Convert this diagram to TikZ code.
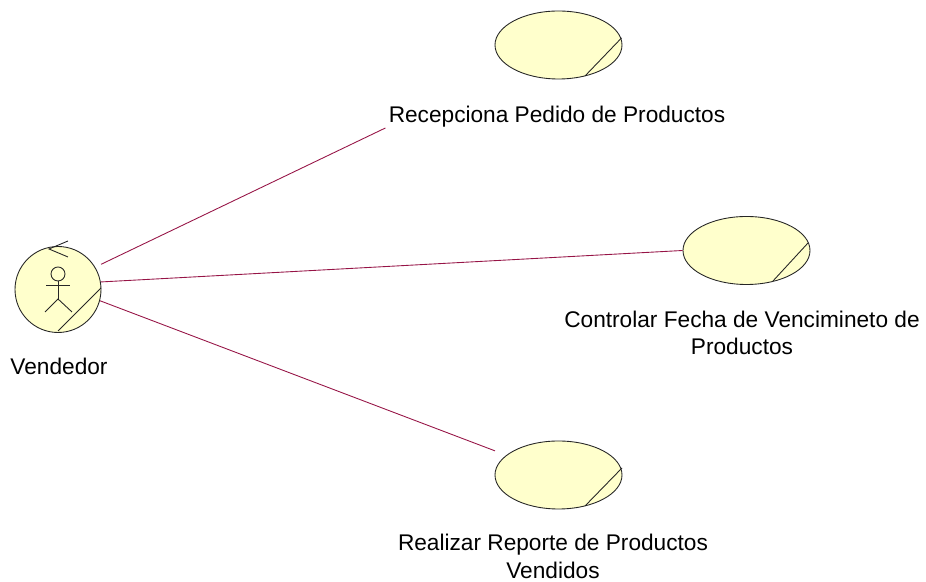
\documentclass[tikz,border=0pt]{standalone}
\usepackage{fontspec}
\setmainfont{Liberation Sans}
\usetikzlibrary{shapes.geometric}
\definecolor{usecasefill}{RGB}{255,255,204}
\definecolor{assoccolor}{RGB}{150,20,70}
\tikzset{
  usecase/.style={draw=black!85,fill=usecasefill,ellipse,minimum width=2.54cm,minimum height=1.36cm,inner sep=0pt,line width=0.5pt},
  actorcase/.style={draw=black!85,fill=usecasefill,circle,minimum size=1.72cm,inner sep=0pt,line width=0.5pt},
  caselabel/.style={align=center,font=\fontsize{12.9}{15.6}\selectfont,inner sep=0pt},
  assoc/.style={assoccolor,line width=0.5pt},
  mark line/.style={black!85,line width=0.5pt}
}
\begin{document}
\begin{tikzpicture}
\useasboundingbox (0,0) rectangle (18.52,11.64);

%use cases
\node[usecase] (recepciona) at (11.17,10.74) {};
\node[usecase] (controlar) at (14.93,6.63) {};
\node[usecase] (realizar) at (11.17,2.14) {};
\node[actorcase] (vendedor) at (1.16,5.85) {};

\draw[mark line] (12.43,10.88)--(11.70,10.12);
\draw[mark line] (16.16,6.78)--(15.46,6.02);
\draw[mark line] (12.44,2.28)--(11.70,1.52);

%actor
\draw[mark line] (2.02,5.88)--(1.16,5.02);
\draw[mark line] (1.36,6.82)--(0.98,6.66)--(1.36,6.50);
\draw[mark line] (1.16,6.16) circle (0.14);
\draw[mark line] (1.16,6.02)--(1.16,5.66);
\draw[mark line] (0.92,5.94)--(1.40,5.94);
\draw[mark line] (0.90,5.40)--(1.16,5.66)--(1.44,5.40);

%labels
\node[caselabel] (recepcionalabel) at (11.14,9.30) {Recepciona Pedido de Productos};
\node[caselabel] (controlarlabel) at (14.84,4.98) {Controlar Fecha de Vencimineto de\\Productos};
\node[caselabel] (realizarlabel) at (11.06,0.51) {Realizar Reporte de Productos\\Vendidos};
\node[caselabel] (vendedorlabel) at (1.18,4.32) {Vendedor};

%associations
\draw[assoc,shorten <=0.13cm,shorten >=2.78cm] (vendedor.31) -- (recepciona);
\draw[assoc] (vendedor.10) -- (controlar.west);
\draw[assoc,shorten >=0.24cm] (vendedor.-15) -- (realizar);

\end{tikzpicture}
\end{document}
